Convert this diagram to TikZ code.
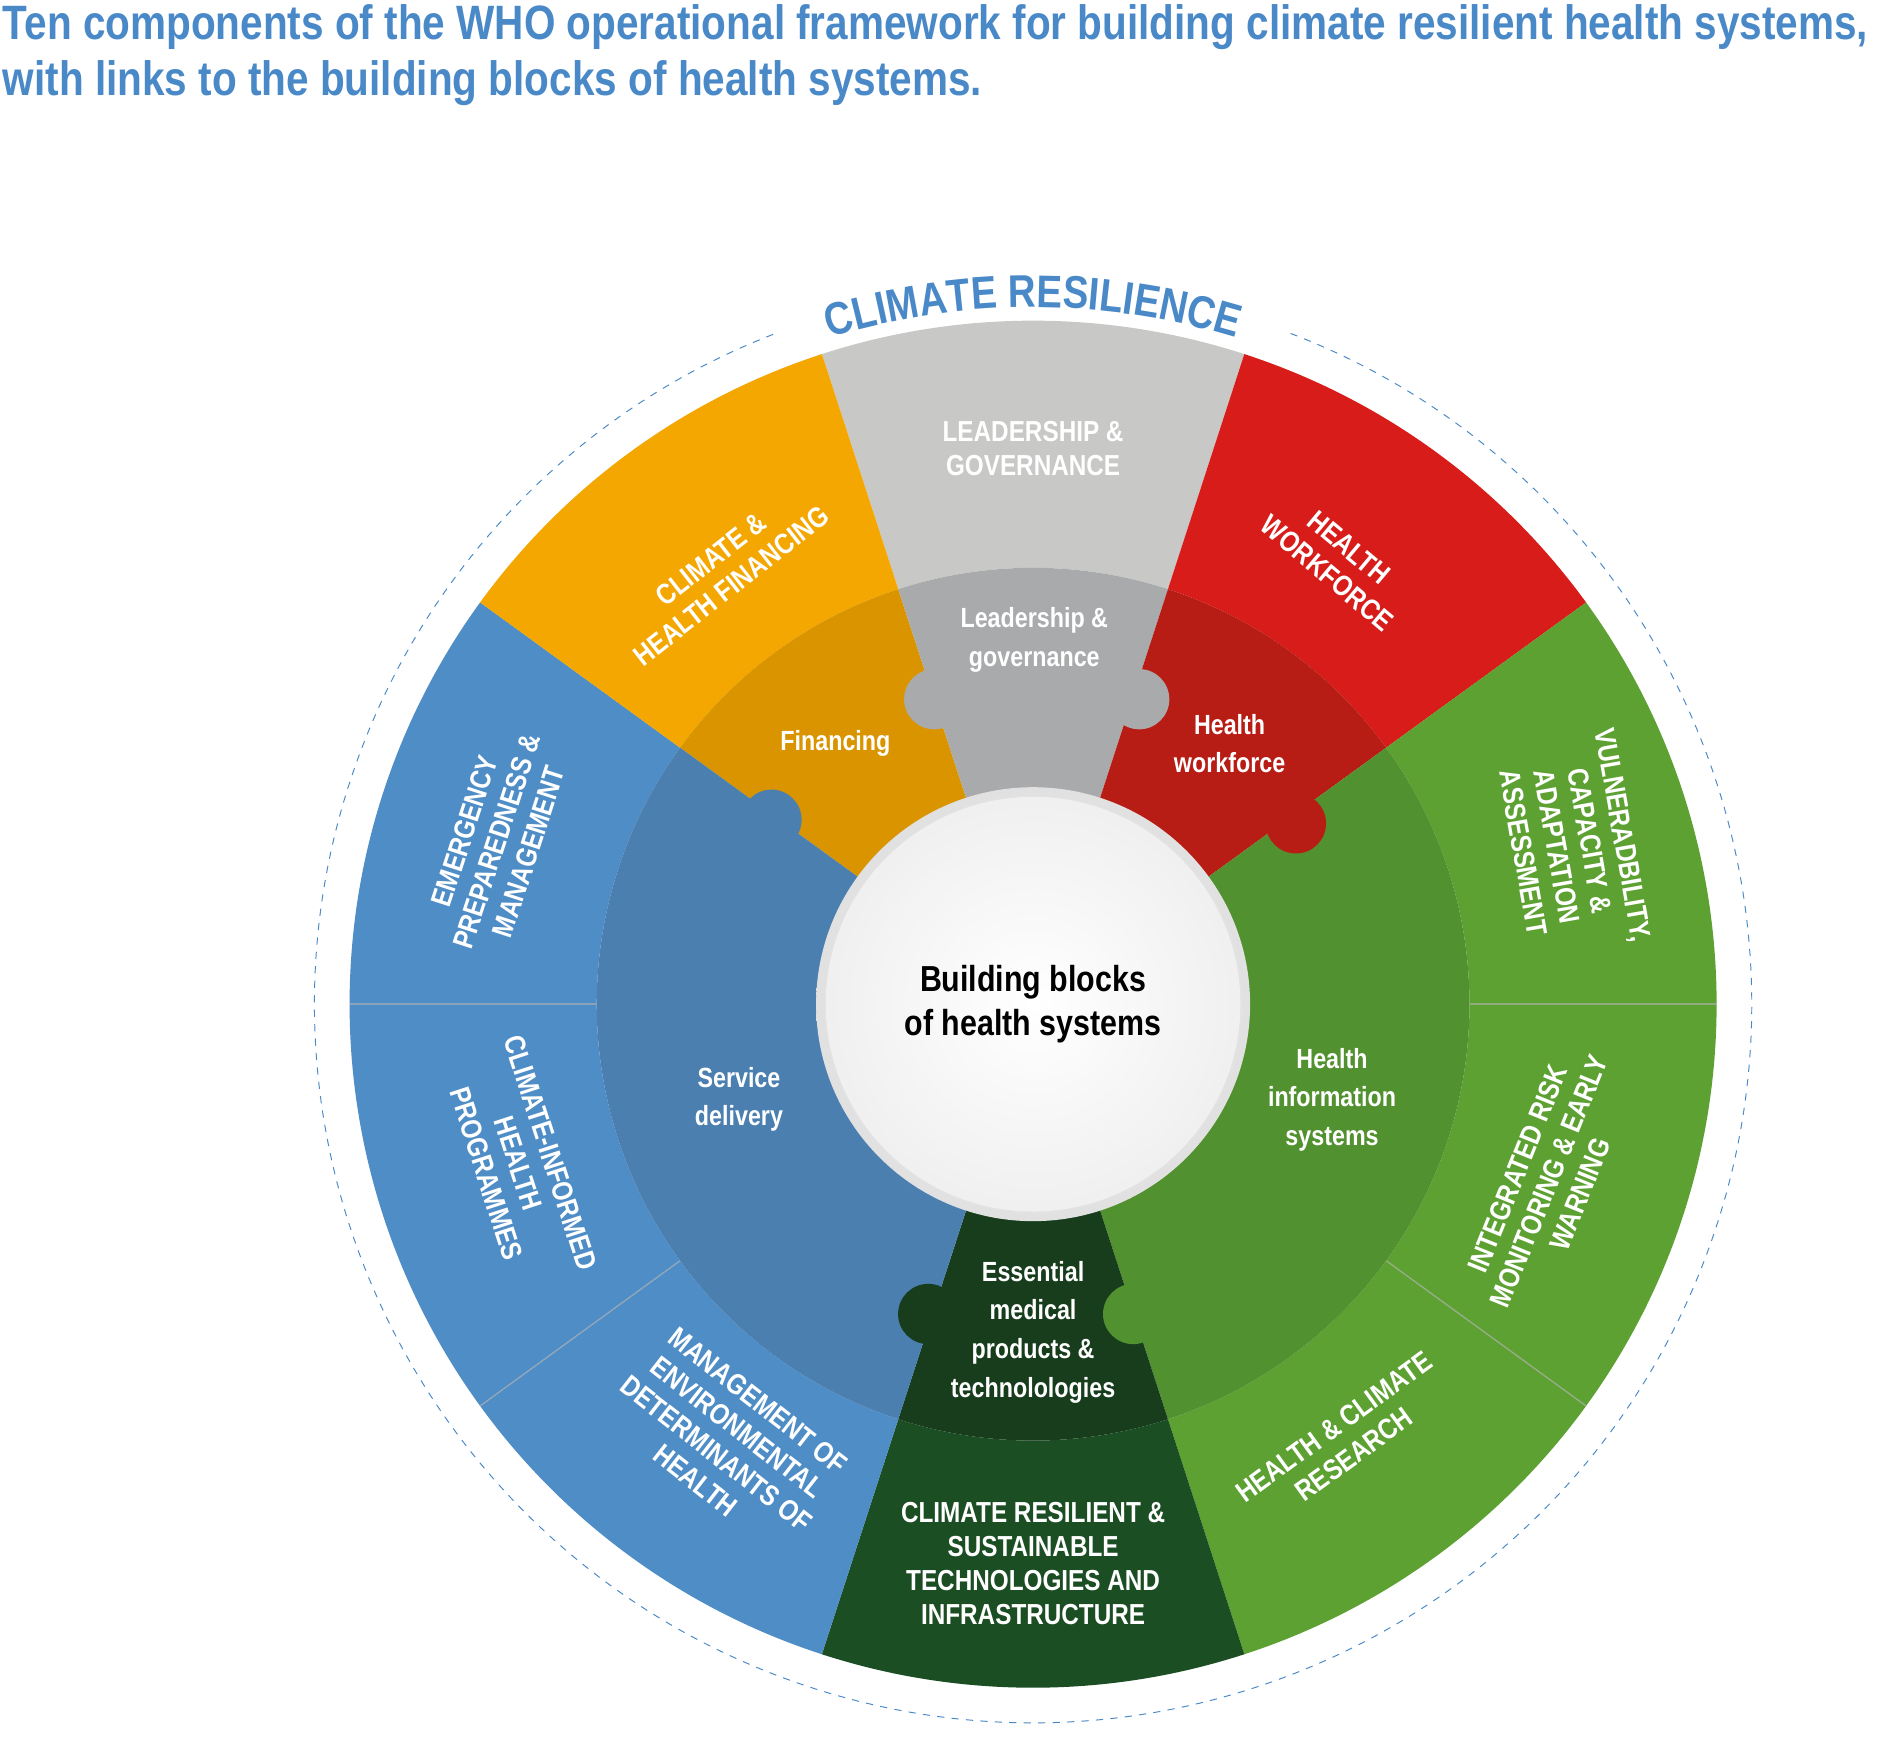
\documentclass[tikz,border=0pt]{standalone}
\usepackage{fontspec}
\setmainfont{Liberation Sans}[FakeStretch=0.84]
\usetikzlibrary{decorations.text}
\definecolor{ttl}{HTML}{4A89C8}
\definecolor{orO}{HTML}{F4A700}\definecolor{orI}{HTML}{DA9400}
\definecolor{grO}{HTML}{C8C8C7}\definecolor{grI}{HTML}{A9AAAC}
\definecolor{rdO}{HTML}{D71C1A}\definecolor{rdI}{HTML}{B81D15}
\definecolor{gnO}{HTML}{5DA132}\definecolor{gnI}{HTML}{52912F}
\definecolor{dgO}{HTML}{1C4E24}\definecolor{dgI}{HTML}{173D1D}
\definecolor{blO}{HTML}{4F8DC7}\definecolor{blI}{HTML}{4A7FB0}
\tikzset{
 olab/.style={text=white,font=\bfseries\fontsize{12}{14}\selectfont,align=center},
 ilab/.style={text=white,font=\bfseries\fontsize{11.5}{16}\selectfont,align=center},
 knob/.style={circle,minimum size=25pt,inner sep=0pt}
}
\newcommand{\sect}[5]{\fill[#5] (#1:#3) arc[start angle=#1,end angle=#2,radius=#3] -- (#2:#4) arc[start angle=#2,end angle=#1,radius=#4] -- cycle;}
\begin{document}
\begin{tikzpicture}[x=0.5pt,y=0.5pt]
\useasboundingbox[fill=white] (-857,-625) rectangle (710,833);
% title
\node[anchor=north west,text=ttl,align=left,font=\bfseries\fontsize{20}{23.5}\selectfont,inner sep=0pt] (title) at (-855,830) {Ten components of the WHO operational framework for building climate resilient health systems,\\with links to the building blocks of health systems.};
% dashed circle with gap
\draw[ttl,dashed,thin] (69:596) arc[start angle=69,end angle=-249,radius=596];
\path[decorate,decoration={text along path,text align=center,text={|\color{ttl}\bfseries\fontsize{19}{19}\selectfont|CLIMATE RESILIENCE}}] (113:578) arc[start angle=113,end angle=67,radius=578];
% outer sectors
\sect{72}{108}{362}{567}{grO}
\sect{36}{72}{362}{567}{rdO}
\sect{0}{36}{362}{567}{gnO}
\sect{-36}{0}{362}{567}{gnO}
\sect{-72}{-36}{362}{567}{gnO}
\sect{-108}{-72}{362}{567}{dgO}
\sect{-144}{-108}{362}{567}{blO}
\sect{-180}{-144}{362}{567}{blO}
\sect{144}{180}{362}{567}{blO}
\sect{108}{144}{362}{567}{orO}
\foreach \a in {0,-36,-144,-180}{\draw[black!30,line width=0.6pt,opacity=0.6] (\a:362) -- (\a:567);}
% middle sectors
\sect{108}{144}{170}{362}{orI}
\sect{72}{108}{170}{362}{grI}
\sect{36}{72}{170}{362}{rdI}
\sect{-72}{36}{170}{362}{gnI}
\sect{-108}{-72}{170}{362}{dgI}
\sect{144}{252}{170}{362}{blI}
% knobs
\node[knob,fill=grI] (k1) at (-82,253) {};
\node[knob,fill=grI] (k2) at (88,253) {};
\node[knob,fill=blI] (k3) at (-217,153) {};
\node[knob,fill=rdI] (k4) at (218,150) {};
\node[knob,fill=dgI] (k5) at (-87,-257) {};
\node[knob,fill=gnI] (k6) at (83,-257) {};
% center
\shade[inner color=white,outer color=black!12] (0,0) circle (180);
\shade[inner color=white,outer color=black!6] (0,0) circle (172);
\node[font=\bfseries\fontsize{15}{18}\selectfont,align=center] (center) at (0,0) {Building blocks\\of health systems};
% outer labels
\node[olab] (o1) at (0,461) {LEADERSHIP \&\\GOVERNANCE};
\node[olab,rotate=-40] (o2) at (253,368) {HEALTH\\WORKFORCE};
\node[olab,rotate=-80] (o3) at (448,133) {VULNERADBILITY,\\CAPACITY \&\\ADAPTATION\\ASSESSMENT};
\node[olab,rotate=68] (o4) at (428,-147) {INTEGRATED RISK\\MONITORING \& EARLY\\WARNING};
\node[olab,rotate=36] (o5) at (258,-362) {HEALTH \& CLIMATE\\RESEARCH};
\node[olab] (o6) at (0,-464) {CLIMATE RESILIENT \&\\SUSTAINABLE\\TECHNOLOGIES AND\\INFRASTRUCTURE};
\node[olab,rotate=-38] (o7) at (-254,-362) {MANAGEMENT OF\\ENVIRONMENTAL\\DETERMINANTS OF\\HEALTH};
\node[olab,rotate=-72] (o8) at (-427,-132) {CLIMATE-INFORMED\\HEALTH\\PROGRAMMES};
\node[olab,rotate=72] (o9) at (-445,135) {EMERGENCY\\PREPAREDNESS \&\\MANAGEMENT};
\node[olab,rotate=38] (o10) at (-259,358) {CLIMATE \&\\HEALTH FINANCING};
% inner labels
\node[ilab] (i1) at (-164,216) {Financing};
\node[ilab] (i2) at (1,302) {Leadership \&\\governance};
\node[ilab] (i3) at (163,216) {Health\\workforce};
\node[ilab] (i4) at (248,-79) {Health\\information\\systems};
\node[ilab] (i5) at (0,-272) {Essential\\medical\\products \&\\technolologies};
\node[ilab] (i6) at (-244,-79) {Service\\delivery};
\end{tikzpicture}
\end{document}
